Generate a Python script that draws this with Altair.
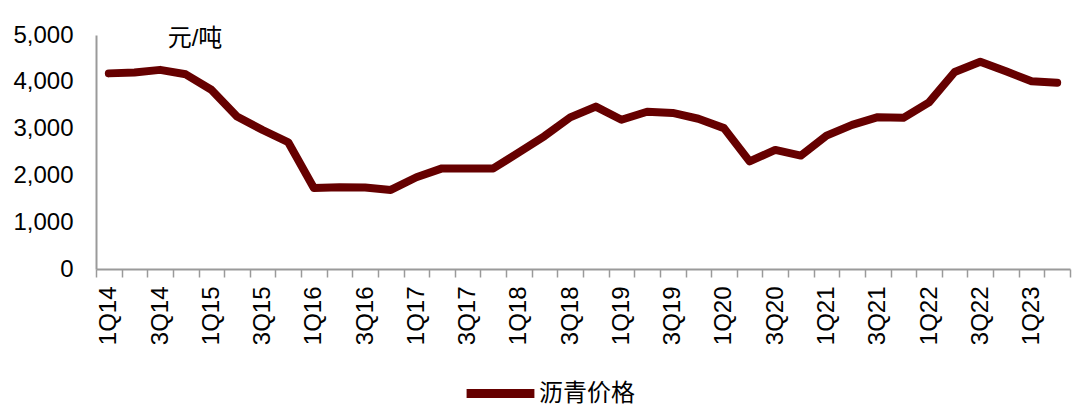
import json
import altair as alt
import pandas as pd

quarters = [
    "1Q14", "2Q14", "3Q14", "4Q14", "1Q15", "2Q15", "3Q15", "4Q15",
    "1Q16", "2Q16", "3Q16", "4Q16", "1Q17", "2Q17", "3Q17", "4Q17",
    "1Q18", "2Q18", "3Q18", "4Q18", "1Q19", "2Q19", "3Q19", "4Q19",
    "1Q20", "2Q20", "3Q20", "4Q20", "1Q21", "2Q21", "3Q21", "4Q21",
    "1Q22", "2Q22", "3Q22", "4Q22", "1Q23", "2Q23",
]
prices = [
    4180, 4200, 4255, 4160, 3830, 3257, 2970, 2708,
    1732, 1745, 1740, 1690, 1960, 2150, 2150, 2150,
    2490, 2840, 3240, 3470, 3190, 3360, 3335, 3210,
    3010, 2300, 2545, 2423, 2850, 3080, 3245, 3230,
    3560, 4210, 4430, 4226, 4010, 3980,
]
shown_labels = [q for q in quarters if q[0] in "13"]
y_ticks = [0, 1000, 2000, 3000, 4000, 5000]
series_name = "沥青价格"
unit_text = "元/吨"

df = pd.DataFrame({"q": quarters, "v": prices, "s": series_name})

FONT = "Liberation Sans, Arial, Noto Sans CJK SC"
GRAY = "#9a9a9a"

line = alt.Chart(df).mark_line(
    strokeWidth=8, strokeCap="round", strokeJoin="round"
).encode(
    x=alt.X(
        "q:N", sort=quarters, bandPosition=0.5,
        scale=alt.Scale(type="band", paddingInner=0, paddingOuter=0),
        axis=alt.Axis(
            title=None, tickBand="extent", tickSize=8, tickColor=GRAY, tickWidth=1.5,
            domainColor=GRAY, domainWidth=2, labelAngle=270, labelAlign="right",
            labelBaseline="middle", labelPadding=9, labelFontSize=24, labelColor="#000",
            labelFont=FONT, labelOverlap=False,
            labelExpr=f"indexof({json.dumps(shown_labels)}, datum.value) >= 0 ? datum.value : ''",
            grid=False,
        ),
    ),
    y=alt.Y(
        "v:Q", scale=alt.Scale(domain=[0, 5000], nice=False),
        axis=alt.Axis(
            title=None, values=y_ticks, format=",d", ticks=False, grid=False,
            domainColor=GRAY, domainWidth=2, labelPadding=23, labelFontSize=24,
            labelColor="#000", labelFont=FONT, labelOverlap=False,
        ),
    ),
    color=alt.Color(
        "s:N", scale=alt.Scale(domain=[series_name], range=["#660000"]),
        legend=alt.Legend(
            title=None, orient="none", legendX=366, legendY=320,
            symbolType="stroke", symbolSize=4600, symbolStrokeWidth=9,
            labelFontSize=24, labelFont=FONT, labelColor="#000", labelOffset=0,
            padding=0,
        ),
    ),
)

unit = alt.Chart(pd.DataFrame({"t": [unit_text]})).mark_text(
    fontSize=24, font=FONT, color="#000", align="center", baseline="middle"
).encode(x=alt.value(99), y=alt.value(4), text="t:N")

chart = alt.layer(line, unit).properties(
    width=974, height=234,
    padding={"left": 88, "top": 27, "right": 2, "bottom": 146},
    autosize=alt.AutoSizeParams(type="none"),
).configure_view(stroke=None)

chart.save("out.html", embed_options={"renderer": "svg", "actions": False})
